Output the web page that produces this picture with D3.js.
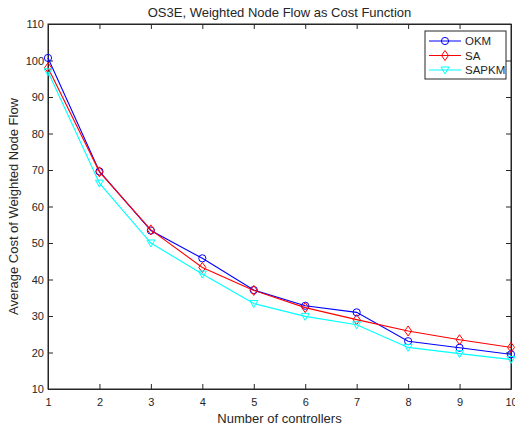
<!DOCTYPE html>
<html lang="en">
<head>
<meta charset="UTF-8">
<title>OS3E Weighted Node Flow</title>
<script src="https://d3js.org/d3.v7.min.js"></script>
<style>
  body { margin: 0; background: #fff; }
  text { font-family: "Liberation Sans", Arial, sans-serif; fill: #262626; }
</style>
</head>
<body>
<div id="chart"></div>
<script>
    // data
    var controllers = [1, 2, 3, 4, 5, 6, 7, 8, 9, 10];
    var okm   = [100.7, 69.6, 53.4, 45.8, 37.1, 32.8, 31.0, 23.1, 21.3, 19.5];
    var sa    = [98.0, 69.5, 53.6, 43.3, 37.0, 32.3, 29.0, 25.9, 23.5, 21.4];
    var sapkm = [96.9, 66.4, 50.0, 41.5, 33.4, 29.9, 27.6, 21.4, 19.7, 18.1];
    var yTicks = [10, 20, 30, 40, 50, 60, 70, 80, 90, 100, 110];
    var seriesNames = ["OKM", "SA", "SAPKM"];

    var margin = {top: 24, right: 4, bottom: 39, left: 48},
        width = 515 - margin.left - margin.right,
        height = 428 - margin.top - margin.bottom;

    var svg = d3.select("#chart")
        .append("svg")
            .attr("width", 515)
            .attr("height", 428)
        .append("g")
            .attr("transform", "translate(" + margin.left + "," + margin.top + ")");

    var x = d3.scaleLinear().domain([1, 10]).range([0, width]);
    var y = d3.scaleLinear().domain([10, 110]).range([height, 0]);

    var axisColor = "#262626";

    // box
    svg.append("rect")
        .attr("width", width).attr("height", height)
        .attr("fill", "none").attr("stroke", axisColor).attr("stroke-width", 1);

    // axes, ticks pointing inward
    var xAx = svg.append("g").attr("transform", "translate(0," + height + ")")
        .call(d3.axisBottom(x).tickValues(controllers).tickSizeInner(-5).tickSizeOuter(0).tickPadding(9));
    var xTop = svg.append("g")
        .call(d3.axisTop(x).tickValues(controllers).tickSizeInner(-5).tickSizeOuter(0).tickFormat(""));
    var yAx = svg.append("g")
        .call(d3.axisLeft(y).tickValues(yTicks).tickSizeInner(-5).tickSizeOuter(0).tickPadding(4));
    var yRight = svg.append("g").attr("transform", "translate(" + width + ",0)")
        .call(d3.axisRight(y).tickValues(yTicks).tickSizeInner(-5).tickSizeOuter(0).tickFormat(""));

    [xAx, xTop, yAx, yRight].forEach(function(g) {
        g.select(".domain").attr("stroke", axisColor);
        g.selectAll(".tick line").attr("stroke", axisColor);
        g.selectAll(".tick text").style("font-size", "11px").attr("fill", axisColor);
    });

    // title and labels
    svg.append("text")
        .attr("x", width / 2).attr("y", -7)
        .style("text-anchor", "middle").style("font-size", "13px")
        .text("OS3E, Weighted Node Flow as Cost Function");

    svg.append("text")
        .attr("x", width / 2).attr("y", height + 34)
        .style("text-anchor", "middle").style("font-size", "13px")
        .text("Number of controllers");

    svg.append("text")
        .attr("transform", "rotate(-90)")
        .attr("x", -height / 2).attr("y", -30)
        .style("text-anchor", "middle").style("font-size", "13px")
        .text("Average Cost of Weighted Node Flow");

    var series = [
        {name: "OKM", values: okm, color: "#0000ff", marker: "circle"},
        {name: "SA", values: sa, color: "#ff0000", marker: "diamond"},
        {name: "SAPKM", values: sapkm, color: "#00ffff", marker: "triangle"}
    ];

    function drawMarker(g, type, cx, cy, color) {
        if (type === "circle") {
            g.append("circle").attr("cx", cx).attr("cy", cy).attr("r", 3.6)
                .attr("fill", "none").attr("stroke", color);
        } else if (type === "diamond") {
            g.append("path")
                .attr("d", "M" + cx + "," + (cy - 5) + "L" + (cx + 3.5) + "," + cy +
                    "L" + cx + "," + (cy + 5) + "L" + (cx - 3.5) + "," + cy + "Z")
                .attr("fill", "none").attr("stroke", color);
        } else {
            g.append("path")
                .attr("d", "M" + (cx - 4) + "," + (cy - 3) + "L" + (cx + 4) + "," + (cy - 3) +
                    "L" + cx + "," + (cy + 4) + "Z")
                .attr("fill", "none").attr("stroke", color);
        }
    }

    var line = d3.line()
        .x(function(d, i) { return x(controllers[i]); })
        .y(function(d) { return y(d); });

    series.forEach(function(s) {
        var g = svg.append("g");
        g.append("path").datum(s.values)
            .attr("d", line)
            .attr("fill", "none").attr("stroke", s.color).attr("stroke-width", 1.1);
        s.values.forEach(function(v, i) {
            drawMarker(g, s.marker, x(controllers[i]), y(v), s.color);
        });
    });

    // legend
    var lg = svg.append("g").attr("transform", "translate(" + (width - 86) + ",7)");
    lg.append("rect").attr("width", 81).attr("height", 48)
        .attr("fill", "#fff").attr("stroke", axisColor);
    series.forEach(function(s, i) {
        var yy = 10 + i * 14.5;
        lg.append("line").attr("x1", 4).attr("x2", 36).attr("y1", yy).attr("y2", yy)
            .attr("stroke", s.color);
        drawMarker(lg, s.marker, 20, yy, s.color);
        lg.append("text").attr("x", 40).attr("y", yy + 4)
            .style("font-size", "11.5px").text(seriesNames[i]);
    });
</script>
</body>
</html>
